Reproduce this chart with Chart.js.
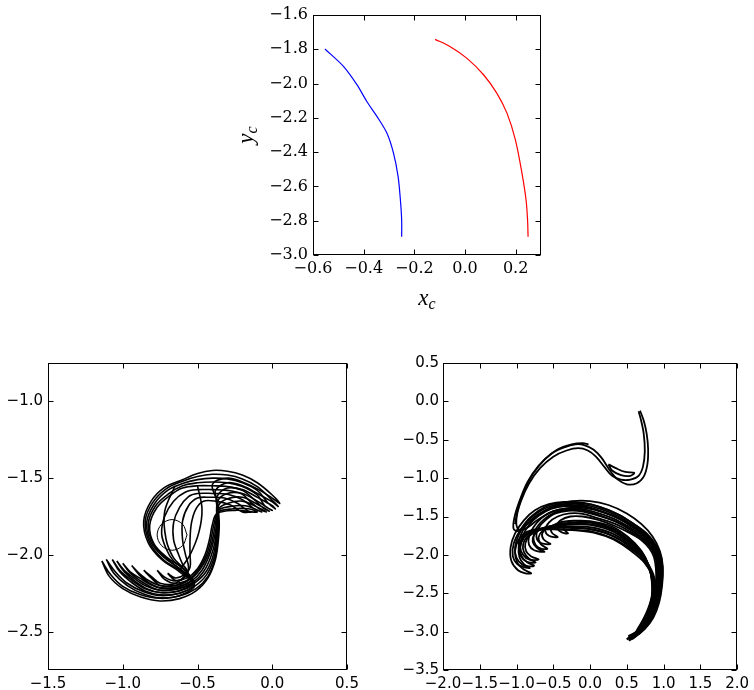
<!DOCTYPE html>
<html>
<head>
<meta charset="utf-8">
<script src="https://cdn.jsdelivr.net/npm/chart.js@4/dist/chart.umd.min.js"></script>
<style>
  html, body { margin: 0; padding: 0; background: #fff; width: 754px; height: 690px; overflow: hidden; }
  canvas { position: absolute; }
</style>
</head>
<body>
<canvas id="top" width="330" height="320" style="left:230px;top:0px;width:330px;height:320px"></canvas>
<canvas id="bl" width="377" height="350" style="left:0px;top:340px;width:377px;height:350px"></canvas>
<canvas id="br" width="377" height="350" style="left:377px;top:340px;width:377px;height:350px"></canvas>
<script>
// ---------- Top panel data ----------
const blueX = [-0.553, -0.479, -0.426, -0.387, -0.347, -0.308, -0.282, -0.264, -0.255, -0.250, -0.250];
const blueY = [-1.798, -1.901, -2.008, -2.106, -2.193, -2.290, -2.407, -2.543, -2.679, -2.796, -2.893];
const redX  = [-0.118, -0.058, 0.008, 0.074, 0.126, 0.166, 0.199, 0.225, 0.241, 0.247, 0.249];
const redY  = [-1.742, -1.785, -1.853, -1.950, -2.057, -2.174, -2.329, -2.524, -2.679, -2.796, -2.893];
const topXTicks = [-0.6, -0.4, -0.2, 0.0, 0.2];
const topYTicks = [-3.0, -2.8, -2.6, -2.4, -2.2, -2.0, -1.8, -1.6];
const topXTitle = ['x', 'c'];
const topYTitle = ['y', 'c'];

// ---------- Bottom-left panel data (contour snapshots) ----------
const leftSnap0 = [[-1.14,-2.04],[-1.09,-2.14],[-1.0,-2.22],[-0.88,-2.275],[-0.75,-2.30],[-0.62,-2.285],[-0.51,-2.235],[-0.43,-2.15],[-0.38,-2.03],[-0.36,-1.90],[-0.355,-1.78],[-0.37,-1.65],[-0.40,-1.54],[-0.3,-1.50],[-0.2,-1.525],[-0.1,-1.57],[0.0,-1.63],[0.05,-1.665],[0.0,-1.61],[-0.1,-1.53],[-0.2,-1.48],[-0.3,-1.455],[-0.4,-1.45],[-0.5,-1.47],[-0.6,-1.51],[-0.72,-1.56],[-0.81,-1.65],[-0.86,-1.78],[-0.83,-1.92],[-0.74,-2.03],[-0.62,-2.11],[-0.52,-2.2],[-0.62,-2.265],[-0.75,-2.283],[-0.88,-2.26],[-1.0,-2.205],[-1.08,-2.13],[-1.14,-2.04]];
const leftSnap1 = [[-1.11,-2.03],[-1.06,-2.12],[-0.97,-2.20],[-0.86,-2.255],[-0.75,-2.28],[-0.62,-2.268],[-0.51,-2.22],[-0.43,-2.14],[-0.385,-2.03],[-0.365,-1.90],[-0.36,-1.78],[-0.365,-1.66],[-0.38,-1.58],[-0.3,-1.53],[-0.2,-1.55],[-0.1,-1.60],[0.0,-1.655],[0.04,-1.685],[-0.01,-1.635],[-0.1,-1.555],[-0.2,-1.505],[-0.3,-1.48],[-0.4,-1.475],[-0.5,-1.49],[-0.6,-1.52],[-0.71,-1.57],[-0.8,-1.66],[-0.85,-1.78],[-0.82,-1.92],[-0.73,-2.03],[-0.62,-2.10],[-0.52,-2.19],[-0.62,-2.25],[-0.75,-2.265],[-0.86,-2.24],[-0.97,-2.185],[-1.05,-2.11],[-1.11,-2.03]];
const leftSnap2 = [[-1.07,-2.03],[-1.02,-2.11],[-0.94,-2.18],[-0.85,-2.235],[-0.75,-2.26],[-0.62,-2.25],[-0.52,-2.205],[-0.44,-2.13],[-0.39,-2.02],[-0.37,-1.90],[-0.365,-1.79],[-0.37,-1.69],[-0.37,-1.62],[-0.3,-1.565],[-0.2,-1.575],[-0.1,-1.625],[0.0,-1.68],[0.02,-1.70],[-0.03,-1.66],[-0.1,-1.58],[-0.2,-1.53],[-0.3,-1.505],[-0.4,-1.50],[-0.5,-1.51],[-0.6,-1.535],[-0.7,-1.58],[-0.79,-1.67],[-0.84,-1.79],[-0.81,-1.92],[-0.72,-2.02],[-0.62,-2.09],[-0.52,-2.18],[-0.62,-2.235],[-0.75,-2.245],[-0.85,-2.22],[-0.94,-2.165],[-1.02,-2.10],[-1.07,-2.03]];
const leftSnap3 = [[-1.04,-2.04],[-0.99,-2.11],[-0.92,-2.17],[-0.84,-2.22],[-0.75,-2.245],[-0.63,-2.235],[-0.53,-2.19],[-0.45,-2.12],[-0.40,-2.02],[-0.375,-1.90],[-0.37,-1.78],[-0.365,-1.65],[-0.3,-1.60],[-0.2,-1.60],[-0.1,-1.65],[-0.02,-1.70],[0.0,-1.71],[-0.05,-1.68],[-0.1,-1.61],[-0.2,-1.555],[-0.3,-1.53],[-0.4,-1.525],[-0.5,-1.53],[-0.6,-1.55],[-0.69,-1.60],[-0.78,-1.68],[-0.83,-1.80],[-0.80,-1.92],[-0.71,-2.02],[-0.62,-2.09],[-0.53,-2.17],[-0.63,-2.22],[-0.75,-2.23],[-0.84,-2.205],[-0.92,-2.155],[-0.99,-2.10],[-1.04,-2.04]];
const leftSnap4 = [[-1.0,-2.055],[-0.95,-2.12],[-0.88,-2.17],[-0.82,-2.205],[-0.75,-2.23],[-0.63,-2.222],[-0.53,-2.18],[-0.46,-2.11],[-0.41,-2.01],[-0.38,-1.90],[-0.37,-1.78],[-0.36,-1.68],[-0.3,-1.635],[-0.2,-1.625],[-0.1,-1.67],[-0.02,-1.715],[-0.06,-1.695],[-0.12,-1.64],[-0.2,-1.58],[-0.3,-1.555],[-0.4,-1.55],[-0.5,-1.55],[-0.6,-1.565],[-0.68,-1.61],[-0.77,-1.69],[-0.82,-1.81],[-0.79,-1.93],[-0.70,-2.02],[-0.61,-2.08],[-0.54,-2.16],[-0.63,-2.21],[-0.75,-2.215],[-0.82,-2.19],[-0.88,-2.155],[-0.95,-2.11],[-1.0,-2.055]];
const leftSnap5 = [[-0.94,-2.07],[-0.89,-2.13],[-0.83,-2.18],[-0.75,-2.215],[-0.64,-2.21],[-0.54,-2.17],[-0.47,-2.10],[-0.42,-2.0],[-0.39,-1.90],[-0.37,-1.79],[-0.36,-1.70],[-0.3,-1.665],[-0.2,-1.65],[-0.1,-1.69],[-0.04,-1.72],[-0.08,-1.705],[-0.14,-1.66],[-0.2,-1.605],[-0.3,-1.58],[-0.4,-1.575],[-0.5,-1.575],[-0.58,-1.59],[-0.66,-1.65],[-0.72,-1.75],[-0.74,-1.86],[-0.71,-1.96],[-0.66,-2.04],[-0.59,-2.09],[-0.55,-2.15],[-0.64,-2.198],[-0.75,-2.20],[-0.83,-2.165],[-0.89,-2.12],[-0.94,-2.07]];
const leftSnap6 = [[-0.86,-2.10],[-0.81,-2.15],[-0.75,-2.20],[-0.65,-2.20],[-0.55,-2.16],[-0.48,-2.09],[-0.43,-2.0],[-0.40,-1.90],[-0.38,-1.80],[-0.36,-1.71],[-0.28,-1.685],[-0.18,-1.68],[-0.07,-1.72],[-0.12,-1.70],[-0.2,-1.64],[-0.3,-1.605],[-0.4,-1.60],[-0.5,-1.60],[-0.56,-1.62],[-0.62,-1.69],[-0.66,-1.79],[-0.66,-1.90],[-0.63,-1.99],[-0.6,-2.06],[-0.57,-2.11],[-0.65,-2.186],[-0.75,-2.185],[-0.81,-2.14],[-0.86,-2.10]];
const leftSnap7 = [[-0.77,-2.10],[-0.72,-2.16],[-0.65,-2.185],[-0.56,-2.16],[-0.49,-2.09],[-0.44,-2.0],[-0.41,-1.90],[-0.39,-1.80],[-0.36,-1.72],[-0.26,-1.70],[-0.16,-1.70],[-0.1,-1.72],[-0.16,-1.715],[-0.23,-1.665],[-0.32,-1.63],[-0.42,-1.625],[-0.5,-1.63],[-0.56,-1.68],[-0.6,-1.78],[-0.6,-1.90],[-0.58,-2.0],[-0.56,-2.08],[-0.58,-2.14],[-0.65,-2.17],[-0.72,-2.145],[-0.77,-2.10]];
const leftSnap8 = [[-0.70,-2.12],[-0.65,-2.165],[-0.57,-2.15],[-0.50,-2.09],[-0.45,-2.0],[-0.42,-1.90],[-0.40,-1.80],[-0.37,-1.73],[-0.25,-1.71],[-0.14,-1.72],[-0.2,-1.72],[-0.28,-1.675],[-0.38,-1.65],[-0.46,-1.65],[-0.51,-1.70],[-0.54,-1.79],[-0.55,-1.90],[-0.55,-2.0],[-0.55,-2.08],[-0.59,-2.13],[-0.65,-2.15],[-0.70,-2.12]];
const leftInnerLoop = [[-0.57,-1.87],[-0.6,-1.80],[-0.67,-1.77],[-0.74,-1.80],[-0.77,-1.87],[-0.74,-1.94],[-0.67,-1.97],[-0.6,-1.94],[-0.57,-1.87]];
const leftInnerArcA = [[-0.5,-1.55],[-0.47,-1.70],[-0.49,-1.85],[-0.55,-2.0],[-0.62,-2.1]];
const leftInnerArcB = [[-0.65,-1.55],[-0.72,-1.72],[-0.71,-1.90],[-0.66,-2.02],[-0.6,-2.08]];
const leftXTicks = [-1.5, -1.0, -0.5, 0.0, 0.5];
const leftYTicks = [-2.5, -2.0, -1.5, -1.0];

// ---------- Bottom-right panel data ----------
const rightMainOuter = [[0.68,-0.12],[0.73,-0.25],[0.77,-0.42],[0.79,-0.62],[0.78,-0.82],[0.73,-0.98],[0.63,-1.07],[0.5,-1.08],[0.38,-1.02],[0.27,-0.9],[0.16,-0.74],[0.05,-0.63],[-0.08,-0.57],[-0.2,-0.56],[-0.35,-0.6],[-0.52,-0.68],[-0.7,-0.84],[-0.85,-1.05],[-0.96,-1.3],[-1.03,-1.52],[-1.04,-1.66],[-0.98,-1.69],[-0.88,-1.62],[-0.75,-1.52],[-0.6,-1.42],[-0.45,-1.34],[-0.25,-1.3],[0.0,-1.3],[0.25,-1.35],[0.5,-1.46],[0.7,-1.6],[0.85,-1.76],[0.95,-1.95],[0.99,-2.15],[0.98,-2.4],[0.94,-2.62],[0.86,-2.82],[0.74,-2.97],[0.6,-3.07],[0.5,-3.1]];
const rightMainInner = [[0.52,-3.06],[0.66,-2.98],[0.8,-2.82],[0.9,-2.6],[0.94,-2.38],[0.94,-2.16],[0.89,-1.98],[0.8,-1.82],[0.64,-1.67],[0.45,-1.55],[0.2,-1.45],[-0.05,-1.39],[-0.3,-1.39],[-0.52,-1.44],[-0.72,-1.55],[-0.88,-1.66],[-0.98,-1.66],[-1.0,-1.52],[-0.94,-1.3],[-0.83,-1.07],[-0.68,-0.87],[-0.5,-0.72],[-0.32,-0.64],[-0.16,-0.61],[-0.03,-0.64],[0.08,-0.72],[0.2,-0.86],[0.3,-0.97],[0.42,-1.02],[0.55,-1.02],[0.66,-0.97],[0.72,-0.85],[0.745,-0.65],[0.73,-0.42],[0.69,-0.23],[0.66,-0.13]];
const rightHookLoop = [[0.25,-0.82],[0.35,-0.87],[0.48,-0.92],[0.6,-0.93],[0.55,-0.97],[0.42,-0.96],[0.3,-0.9],[0.25,-0.82]];
const rightUpperArc = [[-0.02,-0.56],[-0.1,-0.545],[-0.25,-0.56],[-0.45,-0.63],[-0.62,-0.76],[-0.78,-0.95],[-0.9,-1.18],[-0.98,-1.4],[-1.02,-1.6]];
const rightSnap1 = [[0.5,-3.1],[0.62,-3.03],[0.76,-2.92],[0.87,-2.75],[0.95,-2.52],[0.985,-2.28],[0.97,-2.05],[0.9,-1.88],[0.78,-1.73],[0.6,-1.6],[0.4,-1.48],[0.15,-1.38],[-0.1,-1.32],[-0.35,-1.31],[-0.56,-1.34],[-0.75,-1.42],[-0.9,-1.55],[-1.02,-1.72],[-1.08,-1.9],[-1.07,-2.08],[-0.98,-2.2],[-0.88,-2.24],[-0.8,-2.24],[-0.9,-2.19],[-0.99,-2.1],[-1.02,-1.95],[-0.97,-1.8],[-0.86,-1.7],[-0.7,-1.66],[-0.5,-1.66],[-0.3,-1.67],[0.0,-1.69],[0.3,-1.78],[0.55,-1.92],[0.75,-2.07],[0.86,-2.25],[0.9,-2.45],[0.87,-2.65],[0.8,-2.82],[0.68,-2.96],[0.55,-3.06],[0.5,-3.1]];
const rightSnap2 = [[0.53,-3.12],[0.64,-3.04],[0.77,-2.93],[0.87,-2.76],[0.94,-2.53],[0.97,-2.29],[0.955,-2.06],[0.89,-1.9],[0.77,-1.75],[0.59,-1.62],[0.39,-1.5],[0.14,-1.4],[-0.1,-1.345],[-0.35,-1.335],[-0.55,-1.37],[-0.73,-1.46],[-0.87,-1.58],[-0.97,-1.74],[-1.02,-1.9],[-1.0,-2.04],[-0.92,-2.13],[-0.84,-2.15],[-0.76,-2.14],[-0.85,-2.1],[-0.93,-2.02],[-0.95,-1.9],[-0.9,-1.78],[-0.8,-1.7],[-0.65,-1.65],[-0.45,-1.64],[-0.25,-1.65],[0.0,-1.665],[0.3,-1.75],[0.54,-1.89],[0.73,-2.05],[0.84,-2.23],[0.88,-2.43],[0.86,-2.63],[0.79,-2.8],[0.68,-2.95],[0.57,-3.06],[0.53,-3.12]];
const rightSnap3 = [[0.57,-3.1],[0.68,-3.02],[0.79,-2.9],[0.88,-2.73],[0.93,-2.52],[0.955,-2.29],[0.94,-2.07],[0.88,-1.91],[0.76,-1.76],[0.58,-1.64],[0.38,-1.52],[0.13,-1.43],[-0.1,-1.375],[-0.33,-1.365],[-0.53,-1.4],[-0.7,-1.49],[-0.83,-1.61],[-0.92,-1.76],[-0.95,-1.9],[-0.91,-2.0],[-0.83,-2.06],[-0.7,-2.06],[-0.8,-2.02],[-0.87,-1.95],[-0.88,-1.85],[-0.82,-1.75],[-0.7,-1.68],[-0.55,-1.64],[-0.3,-1.63],[0.0,-1.64],[0.3,-1.72],[0.53,-1.86],[0.72,-2.03],[0.83,-2.21],[0.87,-2.42],[0.85,-2.62],[0.78,-2.8],[0.68,-2.95],[0.6,-3.05],[0.57,-3.1]];
const rightSnap4 = [[0.6,-3.05],[0.7,-2.97],[0.8,-2.85],[0.88,-2.68],[0.92,-2.48],[0.94,-2.27],[0.925,-2.07],[0.86,-1.92],[0.75,-1.78],[0.57,-1.66],[0.37,-1.55],[0.12,-1.46],[-0.1,-1.405],[-0.32,-1.395],[-0.5,-1.43],[-0.66,-1.52],[-0.77,-1.64],[-0.83,-1.76],[-0.83,-1.87],[-0.76,-1.94],[-0.62,-1.96],[-0.72,-1.91],[-0.78,-1.83],[-0.76,-1.74],[-0.66,-1.66],[-0.5,-1.62],[-0.25,-1.605],[0.0,-1.61],[0.3,-1.69],[0.52,-1.83],[0.71,-2.0],[0.82,-2.19],[0.86,-2.4],[0.84,-2.6],[0.78,-2.77],[0.69,-2.92],[0.62,-3.01],[0.6,-3.05]];
const rightSnap5 = [[0.63,-3.0],[0.72,-2.93],[0.81,-2.81],[0.88,-2.64],[0.91,-2.45],[0.925,-2.25],[0.91,-2.06],[0.85,-1.93],[0.74,-1.8],[0.56,-1.68],[0.36,-1.57],[0.11,-1.49],[-0.1,-1.435],[-0.3,-1.425],[-0.47,-1.46],[-0.61,-1.55],[-0.7,-1.65],[-0.73,-1.76],[-0.68,-1.84],[-0.54,-1.86],[-0.63,-1.8],[-0.65,-1.72],[-0.57,-1.64],[-0.42,-1.595],[-0.2,-1.58],[0.0,-1.58],[0.3,-1.66],[0.52,-1.8],[0.7,-1.97],[0.81,-2.17],[0.85,-2.38],[0.84,-2.57],[0.78,-2.74],[0.7,-2.88],[0.65,-2.96],[0.63,-3.0]];
const rightSnap6 = [[0.67,-2.95],[0.75,-2.88],[0.83,-2.76],[0.88,-2.6],[0.9,-2.42],[0.91,-2.23],[0.895,-2.05],[0.84,-1.93],[0.73,-1.81],[0.55,-1.7],[0.35,-1.6],[0.1,-1.52],[-0.1,-1.465],[-0.28,-1.46],[-0.44,-1.5],[-0.56,-1.58],[-0.61,-1.68],[-0.56,-1.75],[-0.44,-1.77],[-0.52,-1.71],[-0.52,-1.64],[-0.42,-1.58],[-0.22,-1.555],[0.0,-1.56],[0.3,-1.63],[0.52,-1.77],[0.7,-1.95],[0.8,-2.14],[0.84,-2.35],[0.84,-2.53],[0.79,-2.7],[0.72,-2.85],[0.67,-2.95]];
const rightSnap7 = [[0.72,-2.9],[0.79,-2.82],[0.85,-2.7],[0.89,-2.54],[0.9,-2.35],[0.895,-2.17],[0.87,-2.03],[0.81,-1.92],[0.7,-1.81],[0.53,-1.71],[0.33,-1.62],[0.1,-1.54],[-0.1,-1.5],[-0.27,-1.5],[-0.4,-1.55],[-0.45,-1.63],[-0.4,-1.7],[-0.3,-1.72],[-0.36,-1.66],[-0.32,-1.6],[-0.15,-1.57],[0.05,-1.58],[0.3,-1.65],[0.5,-1.76],[0.68,-1.93],[0.79,-2.12],[0.84,-2.32],[0.85,-2.5],[0.81,-2.67],[0.76,-2.8],[0.72,-2.9]];
const rightSnap8 = [[0.55,-3.08],[0.66,-3.0],[0.78,-2.88],[0.88,-2.7],[0.94,-2.48],[0.965,-2.25],[0.95,-2.03],[0.88,-1.87],[0.76,-1.72],[0.58,-1.59],[0.38,-1.47],[0.12,-1.37],[-0.12,-1.33],[-0.38,-1.32],[-0.6,-1.37],[-0.8,-1.5],[-0.95,-1.68],[-1.04,-1.86],[-1.05,-2.02],[-0.99,-2.12],[-0.9,-2.16],[-0.82,-2.17],[-0.9,-2.12],[-0.96,-2.03],[-0.97,-1.9],[-0.92,-1.78],[-0.82,-1.7],[-0.66,-1.67],[-0.45,-1.67],[-0.2,-1.68],[0.05,-1.71],[0.32,-1.8],[0.56,-1.95],[0.74,-2.1],[0.85,-2.28],[0.89,-2.48],[0.86,-2.67],[0.79,-2.84],[0.67,-2.98],[0.58,-3.05],[0.55,-3.08]];
const rightSnap9 = [[0.59,-3.08],[0.69,-3.0],[0.8,-2.87],[0.89,-2.69],[0.935,-2.47],[0.95,-2.25],[0.93,-2.05],[0.87,-1.9],[0.75,-1.76],[0.57,-1.63],[0.37,-1.52],[0.12,-1.42],[-0.1,-1.36],[-0.34,-1.35],[-0.54,-1.39],[-0.72,-1.48],[-0.86,-1.6],[-0.95,-1.76],[-0.97,-1.9],[-0.94,-2.02],[-0.86,-2.09],[-0.74,-2.1],[-0.83,-2.05],[-0.9,-1.96],[-0.91,-1.86],[-0.85,-1.76],[-0.74,-1.69],[-0.58,-1.655],[-0.35,-1.645],[-0.1,-1.65],[0.2,-1.71],[0.45,-1.83],[0.66,-1.99],[0.8,-2.18],[0.86,-2.4],[0.85,-2.6],[0.79,-2.78],[0.7,-2.93],[0.62,-3.03],[0.59,-3.08]];
const rightSnap10 = [[0.65,-2.98],[0.74,-2.9],[0.82,-2.78],[0.88,-2.62],[0.915,-2.43],[0.93,-2.24],[0.915,-2.06],[0.855,-1.93],[0.745,-1.8],[0.565,-1.68],[0.36,-1.57],[0.11,-1.48],[-0.1,-1.42],[-0.31,-1.41],[-0.48,-1.45],[-0.63,-1.54],[-0.73,-1.65],[-0.77,-1.77],[-0.74,-1.87],[-0.66,-1.92],[-0.58,-1.92],[-0.67,-1.86],[-0.7,-1.77],[-0.64,-1.68],[-0.52,-1.625],[-0.3,-1.6],[0.0,-1.6],[0.3,-1.67],[0.52,-1.81],[0.7,-1.98],[0.81,-2.18],[0.855,-2.39],[0.84,-2.58],[0.78,-2.76],[0.7,-2.9],[0.65,-2.98]];
const rightXTicks = [-2.0, -1.5, -1.0, -0.5, 0.0, 0.5, 1.0, 1.5, 2.0];
const rightYTicks = [-3.5, -3.0, -2.5, -2.0, -1.5, -1.0, -0.5, 0.0, 0.5];

// ---------- helpers ----------
function fmt(v) {
  const s = Math.abs(v).toFixed(1);
  return (v < -1e-9 ? '\u2212' : '') + s;
}
function pts(arr) { return arr.map(p => ({x: p[0], y: p[1]})); }
function pairs(xs, ys) { return xs.map((x, i) => ({x: x, y: ys[i]})); }

const frameTicks = {
  id: 'frameTicks',
  afterDatasetsDraw(chart, args, opts) {
    const ctx = chart.ctx, a = chart.chartArea, xs = chart.scales.x, ys = chart.scales.y;
    const len = opts.len || 5;
    const L = Math.round(a.left) + 0.5, R = Math.round(a.right) - 0.5;
    const T = Math.round(a.top) + 0.5, B = Math.round(a.bottom) - 0.5;
    ctx.save();
    ctx.strokeStyle = '#000';
    ctx.lineWidth = 1;
    ctx.beginPath();
    xs.ticks.forEach(t => {
      const p = Math.round(xs.getPixelForValue(t.value)) + 0.5;
      ctx.moveTo(p, B); ctx.lineTo(p, B - len);
      ctx.moveTo(p, T); ctx.lineTo(p, T + len);
    });
    ys.ticks.forEach(t => {
      const p = Math.round(ys.getPixelForValue(t.value)) + 0.5;
      ctx.moveTo(L, p); ctx.lineTo(L + len, p);
      ctx.moveTo(R, p); ctx.lineTo(R - len, p);
    });
    ctx.stroke();
    ctx.strokeRect(L, T, R - L, B - T);
    ctx.fillStyle = '#000';
    if (opts.xTitle) {
      const [m, s] = opts.xTitle;
      ctx.font = 'italic 23px "Liberation Serif"';
      const wm = ctx.measureText(m).width;
      ctx.font = 'italic 16px "Liberation Serif"';
      const ws = ctx.measureText(s).width;
      const cx = (a.left + a.right) / 2 - (wm + ws) / 2;
      const by = a.bottom + 50;
      ctx.textBaseline = 'alphabetic'; ctx.textAlign = 'left';
      ctx.font = 'italic 23px "Liberation Serif"';
      ctx.fillText(m, cx, by);
      ctx.font = 'italic 16px "Liberation Serif"';
      ctx.fillText(s, cx + wm, by + 4);
    }
    if (opts.yTitle) {
      const [m, s] = opts.yTitle;
      ctx.translate(a.left - 60, (a.top + a.bottom) / 2);
      ctx.rotate(-Math.PI / 2);
      ctx.font = 'italic 23px "Liberation Serif"';
      const wm = ctx.measureText(m).width;
      ctx.font = 'italic 16px "Liberation Serif"';
      const ws = ctx.measureText(s).width;
      const cx = -(wm + ws) / 2;
      ctx.textBaseline = 'alphabetic'; ctx.textAlign = 'left';
      ctx.font = 'italic 23px "Liberation Serif"';
      ctx.fillText(m, cx, 0);
      ctx.font = 'italic 16px "Liberation Serif"';
      ctx.fillText(s, cx + wm, 4);
    }
    ctx.restore();
  }
};

function axis(min, max, ticks, font, pad, fitSize, isY) {
  return {
    type: 'linear', min: min, max: max,
    grid: { display: false, drawTicks: false },
    border: { display: false },
    afterBuildTicks: s => { s.ticks = ticks.map(v => ({ value: v })); },
    afterFit: s => { if (isY) s.width = fitSize; else s.height = fitSize; },
    ticks: { color: '#000', font: font, padding: pad, autoSkip: false, maxRotation: 0, minRotation: 0,
             callback: v => fmt(v) }
  };
}

function lineDs(data, color, width, tension) {
  return { data: data, showLine: true, borderColor: color, borderWidth: width, pointRadius: 0,
           pointHoverRadius: 0, fill: false, tension: tension };
}

const serif = { family: '"DejaVu Serif"', size: 16 };
const sans = { family: '"DejaVu Sans"', size: 15 };

// ---------- Top chart ----------
new Chart(document.getElementById('top'), {
  type: 'scatter',
  data: { datasets: [
    lineDs(pairs(blueX, blueY), '#0000ff', 1.2, 0.3),
    lineDs(pairs(redX, redY), '#ff0000', 1.2, 0.3)
  ]},
  options: {
    responsive: false, animation: false, devicePixelRatio: 1,
    layout: { padding: { left: 0, right: 19, top: 15, bottom: 0 } },
    plugins: { legend: { display: false }, tooltip: { enabled: false },
               frameTicks: { len: 5, xTitle: topXTitle, yTitle: topYTitle } },
    scales: {
      x: axis(-0.6, 0.3, topXTicks, serif, 4, 65, false),
      y: axis(-3.0, -1.6, topYTicks, serif, 5, 83, true)
    }
  },
  plugins: [frameTicks]
});

// ---------- Bottom-left chart ----------
const leftSets = [leftSnap0, leftSnap1, leftSnap2, leftSnap3, leftSnap4, leftSnap5, leftSnap6, leftSnap7, leftSnap8, leftInnerArcA, leftInnerArcB];
const leftDs = leftSets.map(a => lineDs(pts(a), '#000', 1.6, 0.35));
leftDs.push(lineDs(pts(leftInnerLoop), '#000', 1.0, 0.35));
new Chart(document.getElementById('bl'), {
  type: 'scatter',
  data: { datasets: leftDs },
  options: {
    responsive: false, animation: false, devicePixelRatio: 1,
    layout: { padding: { left: 0, right: 30, top: 23, bottom: 0 } },
    plugins: { legend: { display: false }, tooltip: { enabled: false }, frameTicks: { len: 5 } },
    scales: {
      x: axis(-1.5, 0.5, leftXTicks, sans, 5, 20, false),
      y: axis(-2.75, -0.75, leftYTicks, sans, 5, 48, true)
    }
  },
  plugins: [frameTicks]
});

// ---------- Bottom-right chart ----------
const rightSets = [rightMainOuter, rightMainInner, rightHookLoop, rightUpperArc, rightSnap1, rightSnap2, rightSnap3, rightSnap4, rightSnap5, rightSnap6, rightSnap7, rightSnap8, rightSnap9, rightSnap10];
new Chart(document.getElementById('br'), {
  type: 'scatter',
  data: { datasets: rightSets.map(a => lineDs(pts(a), '#000', 1.8, 0.35)) },
  options: {
    responsive: false, animation: false, devicePixelRatio: 1,
    layout: { padding: { left: 0, right: 14, top: 23, bottom: 0 } },
    plugins: { legend: { display: false }, tooltip: { enabled: false }, frameTicks: { len: 5 } },
    scales: {
      x: axis(-2.0, 2.0, rightXTicks, sans, 5, 20, false),
      y: axis(-3.5, 0.5, rightYTicks, sans, 4, 66, true)
    }
  },
  plugins: [frameTicks]
});
</script>
</body>
</html>
